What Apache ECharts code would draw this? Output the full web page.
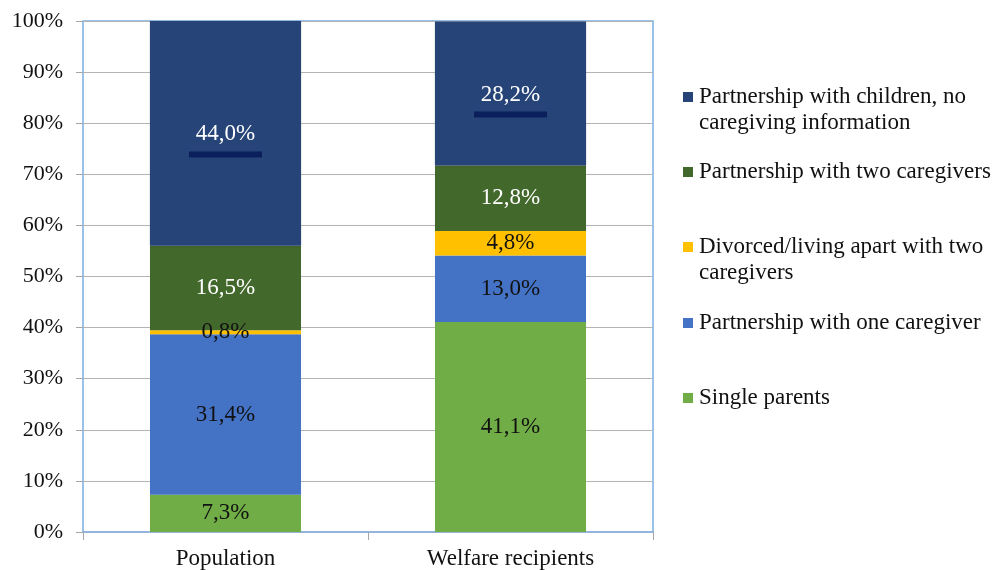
<!DOCTYPE html>
<html>
<head>
<meta charset="utf-8">
<script src="https://cdn.jsdelivr.net/npm/echarts@6/dist/echarts.min.js"></script>
<style>
html,body{margin:0;padding:0;background:#fff;}
#chart{width:998px;height:570px;}
</style>
</head>
<body>
<div id="chart"></div>
<script>
var categories = ['Population', 'Welfare recipients'];
var seriesNames = [
  'Single parents',
  'Partnership with one caregiver',
  'Divorced/living apart with two caregivers',
  'Partnership with two caregivers',
  'Partnership with children, no caregiving information'
];
var singleParents = [7.3, 41.1];
var oneCaregiver = [31.4, 13.0];
var divorced = [0.8, 4.8];
var twoCaregivers = [16.5, 12.8];
var noInfo = [44.0, 28.2];
var yTicks = [0, 10, 20, 30, 40, 50, 60, 70, 80, 90, 100];

var FONT = '"Liberation Serif", "Times New Roman", serif';
var colors = ['#70ad47', '#4472c4', '#ffc000', '#43682b', '#264478'];
var labelColors = ['#111', '#111', '#111', '#fff', '#fff'];
var values = [singleParents, oneCaregiver, divorced, twoCaregivers, noInfo];

function fmt(v) { return v.toFixed(1).replace('.', ',') + '%'; }

var series = values.map(function (arr, i) {
  var s = {
    name: seriesNames[i],
    type: 'bar',
    stack: 'total',
    barWidth: '53%',
    data: arr,
    itemStyle: { color: colors[i] },
    label: {
      show: true,
      position: 'inside',
      fontFamily: FONT,
      fontSize: 23,
      color: labelColors[i],
      formatter: function (p) { return fmt(p.value); }
    }
  };
  if (i === 4) {
    s.itemStyle.shadowColor = 'rgba(0,0,0,0.18)';
    s.itemStyle.shadowBlur = 2;
    s.label.formatter = function (p) { return '{v|' + fmt(p.value) + '}\n{u|}'; };
    s.label.offset = [0, 4];
    s.label.rich = {
      v: { fontFamily: FONT, fontSize: 23, color: '#fff', lineHeight: 34 },
      u: { width: 73, height: 6, backgroundColor: '#0a1f5c' }
    };
  }
  return s;
});

function legendFor(name, top) {
  return {
    orient: 'vertical',
    left: 683,
    top: top,
    padding: 0,
    itemWidth: 10,
    itemHeight: 10,
    itemGap: 0,
    icon: 'rect',
    selectedMode: false,
    data: [name],
    formatter: function (n) {
      if (n === seriesNames[4]) return '\nPartnership with children, no\ncaregiving information';
      if (n === seriesNames[2]) return '\nDivorced/living apart with two\ncaregivers';
      return n;
    },
    textStyle: { fontFamily: FONT, fontSize: 23, color: '#111', lineHeight: 26, padding: [0, 0, 0, 1] }
  };
}

var option = {
  backgroundColor: '#fff',
  animation: false,
  legend: [
    legendFor(seriesNames[4], 58),
    legendFor(seriesNames[3], 159),
    legendFor(seriesNames[2], 208),
    legendFor(seriesNames[1], 310),
    legendFor(seriesNames[0], 385)
  ],
  grid: {
    left: 83, right: 345, top: 21, bottom: 37,
    show: true, borderColor: '#78aee3', borderWidth: 1.5, backgroundColor: '#fff'
  },
  xAxis: {
    type: 'category',
    data: categories,
    axisLine: { show: true, lineStyle: { color: '#8db3e2', width: 1.5 } },
    axisTick: { show: true, length: 8, lineStyle: { color: '#a6a6a6' } },
    axisLabel: { fontFamily: FONT, fontSize: 23, color: '#111', margin: 15 }
  },
  yAxis: {
    type: 'value',
    min: yTicks[0],
    max: yTicks[yTicks.length - 1],
    interval: 10,
    axisLine: { show: false },
    axisTick: { show: true, length: 7, lineStyle: { color: '#a6a6a6' } },
    splitLine: { lineStyle: { color: '#b4b4b4', width: 1 } },
    axisLabel: { fontFamily: FONT, fontSize: 22, color: '#111', margin: 20, formatter: '{value}%' }
  },
  series: series
};

var chart = echarts.init(document.getElementById('chart'), null, { renderer: 'canvas' });
chart.setOption(option);
</script>
</body>
</html>
